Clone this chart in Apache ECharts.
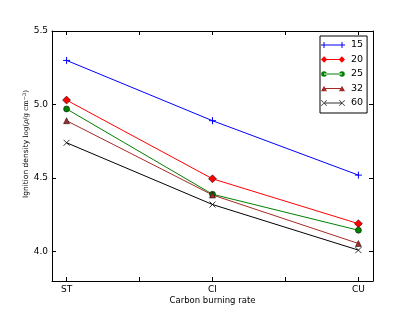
<!DOCTYPE html>
<html><head><meta charset="utf-8">
<script src="https://cdn.jsdelivr.net/npm/echarts@6/dist/echarts.min.js"></script>
<style>html,body{margin:0;padding:0;background:#fff}#c{width:415px;height:313px}</style>
</head><body><div id="c"></div>
<script>
const categories = ['ST', 'CI', 'CU'];
const seriesNames = ['15', '20', '25', '32', '60'];
const s15 = [5.30, 4.89, 4.52];
const s20 = [5.03, 4.495, 4.19];
const s25 = [4.97, 4.39, 4.145];
const s32 = [4.89, 4.385, 4.055];
const s60 = [4.74, 4.32, 4.01];
const yTicks = [4.0, 4.5, 5.0, 5.5];
const xTicks = [0, 0.5, 1, 1.5, 2];

const font = 'DejaVu Sans';
const plus = 'path://M0,5L10,5M5,0L5,10';
const cross = 'path://M0,0L10,10M10,0L0,10';

function pts(arr){ return arr.map((v,i)=>[i, v]); }

const L0 = 3, L1 = 21;
const lineRect = `M${L0},3.5L${L1},3.5L${L1},4.5L${L0},4.5Z`;
const mk = {
  plus: c => `M${c-3},3.5L${c+3},3.5L${c+3},4.5L${c-3},4.5ZM${c-0.5},1L${c+0.5},1L${c+0.5},7L${c-0.5},7Z`,
  diamond: c => `M${c},0.6L${c+3.2},4L${c},7.4L${c-3.2},4Z`,
  circle: c => `M${c-2.8},4A2.8,2.8,0,1,0,${c+2.8},4A2.8,2.8,0,1,0,${c-2.8},4Z`,
  triangle: c => `M${c},1.2L${c+3},6.8L${c-3},6.8Z`,
  cross: c => `M${c-3},1.5L${c-2.5},1L${c+3},6.5L${c+2.5},7ZM${c+3},1.5L${c+2.5},1L${c-3},6.5L${c-2.5},7Z`
};
function icon(kind){
  return 'path://M0,0L0.01,0L0.01,0.01ZM24,8L23.99,8L23.99,7.99Z' + lineRect + mk[kind](L0) + mk[kind](L1);
}

const styles = [
  {data:s15, color:'#0000ff', symbol:plus, size:7, fill:'none', edge:'#0000ff', ew:1, icon:'plus'},
  {data:s20, color:'#ff0000', symbol:'diamond', size:[8,8], fill:'#ff0000', edge:'#000', ew:0.5, icon:'diamond'},
  {data:s25, color:'#008000', symbol:'circle', size:6, fill:'#008000', edge:'#000', ew:0.5, icon:'circle'},
  {data:s32, color:'#a52a2a', symbol:'triangle', size:6, fill:'#a52a2a', edge:'#000', ew:0.5, icon:'triangle'},
  {data:s60, color:'#000000', symbol:cross, size:6, fill:'none', edge:'#000', ew:0.8, icon:'cross'}
];

const series = styles.map((s,i)=>({
  name: seriesNames[i], type:'line', data: pts(s.data),
  symbol: s.symbol, symbolSize: s.size, showSymbol:true,
  lineStyle:{color:s.color, width:1},
  itemStyle:{color: s.fill==='none' ? 'rgba(0,0,0,0)' : s.fill, borderColor:s.edge, borderWidth:s.ew},
  emphasis:{disabled:true}, animation:false
}));

const frameX = (pos)=>({
  type:'value', min:-0.1, max:2.1, position:pos,
  axisLine:{show:true, onZero:false, lineStyle:{color:'#000', width:1}},
  axisTick:{show:true, inside:true, length:4, customValues:xTicks, lineStyle:{color:'#000'}},
  axisLabel:{show: pos==='bottom', customValues:[0,1,2], margin:4, fontFamily:font, fontSize:9, color:'#000',
    formatter:(v)=>categories[Math.round(v)]},
  splitLine:{show:false}
});
const frameY = (pos)=>({
  type:'value', min:3.8, max:5.5, position:pos,
  axisLine:{show:true, onZero:false, lineStyle:{color:'#000', width:1}},
  axisTick:{show:true, inside:true, length:4, customValues:yTicks, lineStyle:{color:'#000'}},
  axisLabel:{show: pos==='left', customValues:yTicks, margin:4, fontFamily:font, fontSize:9, color:'#000',
    formatter:(v)=>v.toFixed(1)},
  splitLine:{show:false}
});

const xb = frameX('bottom');
xb.name = 'Carbon burning rate'; xb.nameLocation='middle'; xb.nameGap=15; xb.nameMoveOverlap=false;
xb.nameTextStyle={fontFamily:font, fontSize:8.5, color:'#000'};
const yl = frameY('left');
yl.name = '{a|Ignition density }{b|log(}{c|ρ}{b|/g cm}{s|−3}{b|)}';
yl.nameLocation='middle'; yl.nameGap=21; yl.nameRotate=90; yl.nameMoveOverlap=false;
yl.nameTextStyle={fontFamily:font, fontSize:7.5, color:'#000', padding:[0,0,0,24],
  rich:{a:{fontFamily:font, fontSize:7.5, color:'#000'},
        b:{fontFamily:'DejaVu Serif', fontSize:7, color:'#000'},
        c:{fontFamily:'DejaVu Serif', fontStyle:'italic', fontSize:7, color:'#000'},
        s:{fontFamily:'DejaVu Serif', fontSize:5, color:'#000', verticalAlign:'top', padding:[0,0,4,0]}}};

const chart = echarts.init(document.getElementById('c'), null, {renderer:'canvas'});
chart.setOption({
  animation:false,
  backgroundColor:'#fff',
  grid:{left:52, right:42, top:31, bottom:32, containLabel:false},
  legend:{
    data: seriesNames.map((n,i)=>({name:n, icon:icon(styles[i].icon),
      itemStyle:{color:styles[i].color==='#000000'?'#333':styles[i].color, borderWidth:0}})),
    orient:'vertical', left:320, top:36,
    itemWidth:24, itemHeight:8, itemGap:4.5,
    borderColor:'#000', borderWidth:1, padding:[4,4,5,1],
    textStyle:{fontFamily:font, fontSize:9.5, color:'#000', padding:[0,0,0,1]},
    backgroundColor:'#fff'
  },
  xAxis:[xb, frameX('top')],
  yAxis:[yl, frameY('right')],
  series: series
});
</script></body></html>
